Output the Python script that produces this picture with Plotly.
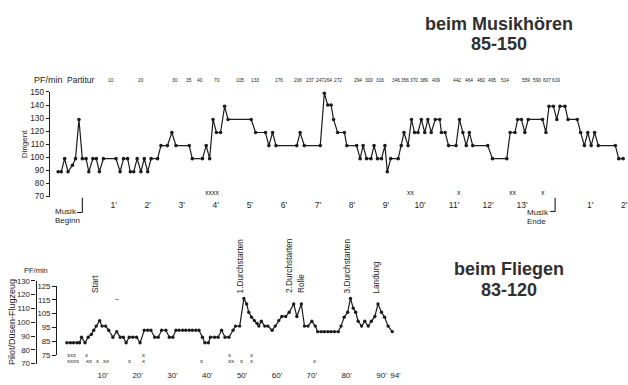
import plotly.graph_objects as go

W, H = 628, 385

# ---------------- data: top (Dirigent, beim Musikhören) ----------------
dir_min = [-0.63, -0.54, -0.44, -0.34, -0.21, -0.12, -0.02, 0.08, 0.19, 0.27, 0.39, 0.49, 0.58, 0.70,
           1.07, 1.19, 1.29, 1.41, 1.49, 1.59, 1.69, 1.80, 1.90, 2.00, 2.10, 2.29, 2.39, 2.58, 2.71, 2.83,
           3.22, 3.31, 3.61, 3.72, 3.82, 3.92, 4.02, 4.14, 4.26, 4.36, 5.04, 5.17, 5.46, 5.56, 5.67, 5.77,
           6.38, 6.48, 6.60, 7.07, 7.19, 7.29, 7.39, 7.46, 7.58, 7.78, 7.85, 8.14, 8.24, 8.33, 8.43, 8.56,
           8.65, 8.75, 8.87, 8.97, 9.04, 9.14, 9.36, 9.45, 9.53, 9.65, 9.75, 9.84, 9.94, 10.04, 10.14,
           10.23, 10.33, 10.45, 10.58, 10.63, 10.74, 10.84, 11.06, 11.16, 11.26, 11.36, 11.45, 11.55,
           11.99, 12.13, 12.55, 12.65, 12.79, 12.87, 12.98, 13.08, 13.18, 13.60, 13.70, 13.79, 13.92,
           14.02, 14.11, 14.26, 14.35, 14.62, 14.72, 14.83, 14.93, 15.03, 15.13, 15.24, 15.74, 15.84, 15.97]
dir_pf = [89, 89, 99, 89, 94, 99, 129, 99, 99, 89, 99, 99, 89, 99,
          99, 89, 99, 99, 89, 89, 99, 89, 99, 89, 99, 99, 109, 109, 119, 109,
          109, 99, 99, 109, 99, 129, 119, 119, 139, 129, 129, 119, 119, 109, 119, 109,
          109, 119, 109, 109, 149, 140, 140, 129, 119, 119, 109, 109, 99, 109, 99, 99,
          109, 99, 99, 109, 89, 99, 99, 109, 119, 109, 129, 119, 119, 129, 119,
          129, 119, 129, 129, 119, 119, 109, 109, 129, 119, 109, 119, 109,
          109, 99, 99, 119, 119, 129, 129, 119, 129, 129, 119, 139, 139,
          129, 139, 139, 129, 129, 119, 109, 119, 109, 119, 109, 109, 99, 99]

top_tick_vals = [1, 2, 3, 4, 5, 6, 7, 8, 9, 10, 11, 12, 13, 15, 16]
top_tick_text = ["1'", "2'", "3'", "4'", "5'", "6'", "7'", "8'", "9'", "10'", "11'", "12'", "13'", "1'", "2'"]
musik_beginn = 0.08
musik_ende = 13.97

partitur_pos = [0.91, 1.80, 2.81, 3.22, 3.54, 4.04, 4.70, 5.15, 5.87, 6.43, 6.78, 7.05, 7.31, 7.60,
                8.19, 8.50, 8.82, 9.30, 9.56, 9.82, 10.12, 10.47, 11.08, 11.45, 11.78, 12.13, 12.51,
                13.10, 13.45, 13.74, 14.01]
partitur_txt = ["10", "20", "30", "35", "40", "70", "105", "133", "176", "206", "237", "247", "264", "272",
                "294", "300", "316", "346", "356", "370", "389", "409", "442", "464", "482", "495", "514",
                "559", "590", "607", "619"]

top_marks_pos = [3.89, 9.74, 11.14, 12.72, 13.60]
top_marks_txt = ["xxxx", "xx", "x", "xx", "x"]

# ---------------- data: bottom (Pilot, beim Fliegen) ----------------
pilot_min = [-0.3, 0.7, 1.6, 2.6, 3.3, 3.9, 4.9, 5.8, 6.7, 7.4, 8.1, 9.1, 9.8, 10.8, 11.7, 12.9, 14.0,
             15.0, 15.9, 16.7, 17.6, 18.6, 19.7, 20.7, 21.9, 22.9, 23.8, 24.9, 25.9, 26.9, 28.1, 29.1,
             30.1, 31.0, 31.9, 32.9, 33.8, 34.8, 35.7, 36.7, 37.6, 38.6, 39.3, 40.3, 40.9, 42.1, 43.1,
             44.1, 45.1, 46.2, 47.4, 48.1, 49.3, 50.5, 51.3, 51.9, 52.7, 53.5, 54.3, 54.8, 55.5, 56.5,
             57.4, 58.6, 59.5, 60.5, 61.4, 62.5, 63.5, 64.8, 65.7, 67.0, 67.9, 68.9, 70.0, 71.0, 71.7,
             72.7, 73.6, 74.6, 75.5, 76.5, 77.6, 78.4, 79.3, 80.3, 81.1, 81.9, 82.6, 83.3, 84.3, 85.2,
             86.2, 87.1, 88.1, 89.0, 90.0, 90.9, 91.9, 93.1]
pilot_pf = [84, 84, 84, 84, 84, 88, 84, 88, 90, 93, 96, 100, 96, 96, 93, 88, 92,
            88, 88, 84, 88, 88, 88, 84, 93, 93, 93, 88, 88, 93, 93, 88,
            88, 93, 93, 93, 93, 93, 93, 93, 93, 88, 84, 84, 88, 88, 88,
            93, 88, 88, 93, 96, 96, 116, 112, 106, 102.5, 100, 98, 96, 99.5, 96,
            96, 93, 96, 100, 103, 103, 106, 112, 103, 112, 96, 96, 99.5, 96, 92,
            92, 92, 92, 92, 92, 92, 96, 102.5, 106, 116, 109, 106, 99.5, 96, 99.5,
            96, 99.5, 103, 112, 106, 102.5, 96, 92]

bot_tick_vals = [10, 20, 30, 40, 50, 60, 70, 80, 90, 94]
bot_tick_text = ["10'", "20'", "30'", "40'", "50'", "60'", "70'", "80'", "90'", "94'"]

event_pos = [7.7, 49.3, 63.5, 66.7, 80.0, 88.4]
event_txt = ["Start", "1.Durchstarten", "2.Durchstarten", "Rolle", "3.Durchstarten", "Landung"]

bot_marks1_pos = [1.0, 5.4, 21.6, 46.4, 52.7]
bot_marks1_txt = ["xxx", "x", "x", "x", "x"]
bot_marks2_pos = [1.4, 6.1, 8.6, 11.0, 17.6, 21.6, 38.4, 46.9, 49.8, 52.7, 70.8]
bot_marks2_txt = ["xxxx", "xx", "x", "xx", "x", "x", "x", "xx", "x", "x", "x"]


# ---------------- helpers (pixel -> paper) ----------------
def PX(p):
    return p / W


def PY(p):
    return 1 - p / H


FONT = "Liberation Sans, Arial, sans-serif"
INK = "#1c1c1c"

# top x mapping: px = 80 + 34.2*min
T0, TS = 80.0, 34.2
# bottom x mapping: px = 68.3 + 3.5*min
B0, BS = 68.3, 3.5

fig = go.Figure()

fig.add_trace(go.Scatter(x=dir_min, y=dir_pf, mode="lines+markers", xaxis="x", yaxis="y",
                         line=dict(color=INK, width=1.2), marker=dict(color=INK, size=3.6),
                         cliponaxis=False, hoverinfo="skip"))
fig.add_trace(go.Scatter(x=pilot_min, y=pilot_pf, mode="lines+markers", xaxis="x2", yaxis="y3",
                         line=dict(color=INK, width=1.2), marker=dict(color=INK, size=3.4),
                         cliponaxis=False, hoverinfo="skip"))
fig.add_trace(go.Scatter(x=[None], y=[None], xaxis="x2", yaxis="y4", showlegend=False, hoverinfo="skip"))

axis_common = dict(showgrid=False, zeroline=False, color=INK)

fig.update_layout(
    width=W, height=H, margin=dict(l=0, r=0, t=0, b=0),
    paper_bgcolor="white", plot_bgcolor="rgba(0,0,0,0)", showlegend=False,
    font=dict(family=FONT, size=9, color=INK),
    xaxis=dict(domain=[PX(50), 1], range=[(50 - T0) / TS, (628 - T0) / TS],
               anchor="free", position=PY(198), showline=False, ticks="",
               tickmode="array", tickvals=top_tick_vals, ticktext=top_tick_text, tickangle=0,
               ticklabeloverflow="allow",
               tickfont=dict(size=8.5), ticklabelstandoff=1, **axis_common),
    yaxis=dict(domain=[PY(196.7), PY(89.3)], range=[70, 150], anchor="x",
               showline=True, linewidth=1.1, linecolor=INK, ticks="outside", ticklen=3,
               tickwidth=1, tickcolor=INK, dtick=10, tick0=70, tickfont=dict(size=8.3),
               ticklabelstandoff=0, **axis_common),
    xaxis2=dict(domain=[PX(57.3), PX(420)], range=[(57.3 - B0) / BS, (420 - B0) / BS],
                anchor="free", position=PY(373.5), showline=False, ticks="",
                tickmode="array", tickvals=bot_tick_vals, ticktext=bot_tick_text, tickangle=0,
                ticklabeloverflow="allow",
                tickfont=dict(size=8), ticklabelstandoff=0, **axis_common),
    yaxis3=dict(domain=[PY(359.5), PY(288.5)], range=[75, 125], anchor="x2",
                showline=True, linewidth=1.1, linecolor=INK, ticks="outside", ticklen=4,
                tickwidth=1, tickcolor=INK, tickmode="array", tickvals=[75, 85, 95, 105, 115, 125],
                tickfont=dict(size=7.8), ticklabelstandoff=0, **axis_common),
    yaxis4=dict(domain=[PY(368.3), PY(283.3)], range=[70, 130], anchor="free", position=PX(35.7),
                showline=True, linewidth=1.1, linecolor=INK, ticks="outside", ticklen=4,
                tickwidth=1, tickcolor=INK, dtick=10, tick0=70,
                tickfont=dict(size=7.8), ticklabelstandoff=0, **axis_common),
)

ann = []


def A(text, x, y, xref="paper", size=9, angle=0, xanchor="center", yanchor="middle",
      bold=False, color=INK, family=FONT, xshift=0):
    ann.append(dict(text=("<b>%s</b>" % text) if bold else text, x=x, y=y, xref=xref, yref="paper",
                    showarrow=False, textangle=angle, xanchor=xanchor, yanchor=yanchor,
                    font=dict(size=size, color=color, family=family), xshift=xshift,
                    borderpad=0))


A("beim Musikhören", PX(501.7), PY(20), size=18, bold=True, color="#303030")
A("85-150", PX(501.7), PY(40.5), size=18, bold=True, color="#303030")
A("beim Fliegen", PX(511), PY(271.5), size=18, bold=True, color="#303030")
A("83-120", PX(511.5), PY(292.5), size=18, bold=True, color="#303030")

# top header
A("PF/min", PX(33), PY(77), size=9, xanchor="left")
A("Partitur", PX(66), PY(77), size=8.5, xanchor="left")
for p, t in zip(partitur_pos, partitur_txt):
    A(t, p, PY(77.5), xref="x", size=4.8)
A("Dirigent", PX(24), PY(143), size=8, angle=-90)
for p, t in zip(top_marks_pos, top_marks_txt):
    A(t, p, PY(192.5), xref="x", size=7)

# Musik Beginn / Ende
A("Musik", musik_beginn, PY(212.5), xref="x", size=8, xanchor="left", xshift=-28)
A("Beginn", musik_beginn, PY(221.5), xref="x", size=8, xanchor="left", xshift=-28)
A("Musik", musik_ende, PY(213.5), xref="x", size=8, xanchor="left", xshift=-29)
A("Ende", musik_ende, PY(222.5), xref="x", size=8, xanchor="left", xshift=-29)

# bottom
A("PF/min", PX(36), PY(273), size=7.5)
A("Pilot/Düsen-Flugzeug", PX(11.5), PY(325), size=9, angle=-90)
for p, t in zip(event_pos, event_txt):
    A(t, p, PY(297), xref="x2", size=8.3, angle=-90, yanchor="bottom")
A("–", 14.2, PY(301.5), xref="x2", size=7)
for p, t in zip(bot_marks1_pos, bot_marks1_txt):
    A(t, p, PY(359.8), xref="x2", size=6)
for p, t in zip(bot_marks2_pos, bot_marks2_txt):
    A(t, p, PY(365.8), xref="x2", size=6)

fig.update_layout(annotations=ann)

shapes = []
for xv, top_y, bot_y, left in [(musik_beginn, 198, 213, 5.5 / TS), (musik_ende, 198, 212, 5.0 / TS)]:
    shapes.append(dict(type="line", xref="x", yref="paper", x0=xv, x1=xv, y0=PY(top_y), y1=PY(bot_y),
                       line=dict(color=INK, width=1.1)))
    shapes.append(dict(type="line", xref="x", yref="paper", x0=xv - left, x1=xv, y0=PY(bot_y), y1=PY(bot_y),
                       line=dict(color=INK, width=1.1)))
fig.update_layout(shapes=shapes)

fig.write_html("out.html")
